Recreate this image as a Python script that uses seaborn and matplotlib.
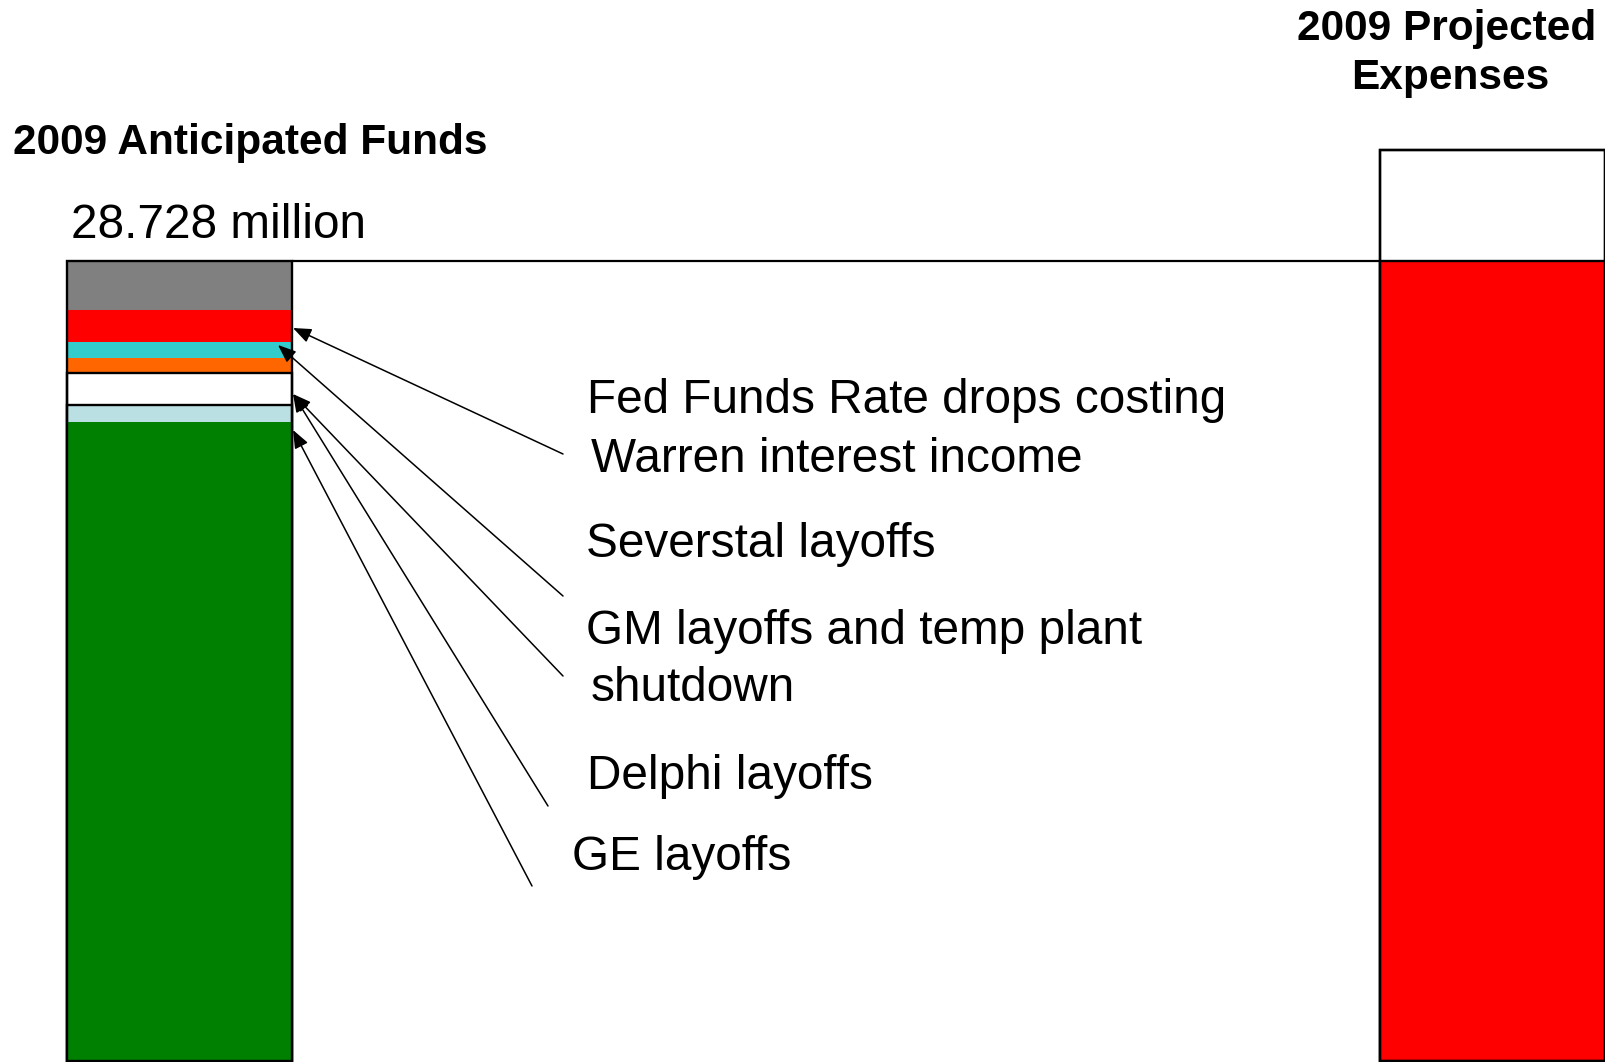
import numpy as np
import pandas as pd
import matplotlib
matplotlib.use("Agg")
import matplotlib.pyplot as plt
import seaborn as sns

# ---------------- data ----------------
categories = ["2009 Anticipated Funds", "2009 Projected Expenses"]

# left bar segments, bottom -> top (millions)
fund_segments = ["Remaining funds", "GE layoffs", "GM & Delphi layoffs", "Other loss",
                 "Severstal layoffs", "Fed Funds Rate drop", "Top reserve"]
fund_values = [22.948, 0.61, 1.15, 0.54, 0.57, 1.15, 1.76]
fund_colors = ["#008000", "#BBE0E3", "#FFFFFF", "#FF6600", "#33CCCC", "#FF0000", "#808080"]
fund_edges = [False, True, True, False, False, False, False]

# right bar segments, bottom -> top (millions)
expense_segments = ["Covered by funds", "Shortfall"]
expense_values = [28.728, 3.98]
expense_colors = ["#FF0000", "#FFFFFF"]
expense_edges = [True, True]

funds_label = "28.728 million"
annotations = [
    "Fed Funds Rate drops costing\nWarren interest income",
    "Severstal layoffs",
    "GM layoffs and temp plant\nshutdown",
    "Delphi layoffs",
    "GE layoffs",
]

# ---------------- figure ----------------
W, H = 1606, 1062
sns.set_theme(style="white")
plt.rcParams["font.family"] = ["Liberation Sans", "DejaVu Sans"]
plt.rcParams["text.color"] = "black"

fig = plt.figure(figsize=(W / 100, H / 100), dpi=100)
ax = fig.add_axes([0, 0, 1, 1])

bar_w = 225 / 1312.5
lw_out = 1.7


def draw_stack(cat, values, colors, edges):
    cum = np.cumsum(values)
    # draw from the tallest cumulative height downwards so lower segments overlay
    for i in range(len(values) - 1, -1, -1):
        sns.barplot(x=[cat], y=[cum[i]], order=categories, color=colors[i],
                    saturation=1, width=bar_w, errorbar=None, ax=ax,
                    edgecolor="black" if edges[i] else "none",
                    linewidth=lw_out if edges[i] else 0)
    return cum[-1]


total_funds = draw_stack(categories[0], fund_values, fund_colors, fund_edges)
total_exp = draw_stack(categories[1], expense_values, expense_colors, expense_edges)

# outer outlines
sns.barplot(x=categories, y=[total_funds, total_exp], order=categories, fill=False,
            color="black", linewidth=lw_out, width=bar_w, errorbar=None, ax=ax)

# horizontal funding line
ax.hlines(total_funds, xmin=bar_w / 2, xmax=1 - bar_w / 2, color="black", lw=1.6, zorder=5)

px_per_m = 800 / 28.728
ax.set_xlim(-179.5 / 1312.5, (W - 179.5) / 1312.5)
ax.set_ylim(-1 / px_per_m, 1061 / px_per_m)
ax.axis("off")


def ftext(x, y, s, **kw):
    fig.text(x / W, 1 - y / H, s, color="black", **kw)


BOLD = 30.5
REG = 34.4

# titles
ftext(13, 154, categories[0], fontsize=BOLD, fontweight="bold", va="baseline", ha="left")
ftext(1447, 40, "2009 Projected", fontsize=BOLD, fontweight="bold", va="baseline", ha="center")
ftext(1450, 89, "Expenses", fontsize=BOLD, fontweight="bold", va="baseline", ha="center")
ftext(71, 238, funds_label, fontsize=REG, va="baseline", ha="left")

# annotation texts (line by line, positions in pixels)
text_lines = [
    (587, 413, annotations[0].split("\n")[0]),
    (591, 472, annotations[0].split("\n")[1]),
    (586, 557, annotations[1]),
    (586, 644, annotations[2].split("\n")[0]),
    (591, 701, annotations[2].split("\n")[1]),
    (587, 789, annotations[3]),
    (572, 870, annotations[4]),
]
for x, y, s in text_lines:
    ftext(x, y, s, fontsize=REG, va="baseline", ha="left")

# arrows: (tip, tail) in pixel coords from top-left
arrows = [
    ((293, 328), (563, 454)),
    ((278, 345), (563, 596)),
    ((293, 394), (563, 676)),
    ((293, 394), (548, 806)),
    ((293, 430), (532, 886)),
]
for (tx, ty), (sx, sy) in arrows:
    ax.annotate("", xy=(tx, H - ty), xycoords="figure pixels",
                xytext=(sx, H - sy), textcoords="figure pixels",
                arrowprops=dict(arrowstyle="-|>,head_length=0.55,head_width=0.22",
                                mutation_scale=20, color="black", lw=1.1,
                                shrinkA=0, shrinkB=0),
                zorder=10)

fig.savefig("out.png", dpi=100, facecolor="white")
